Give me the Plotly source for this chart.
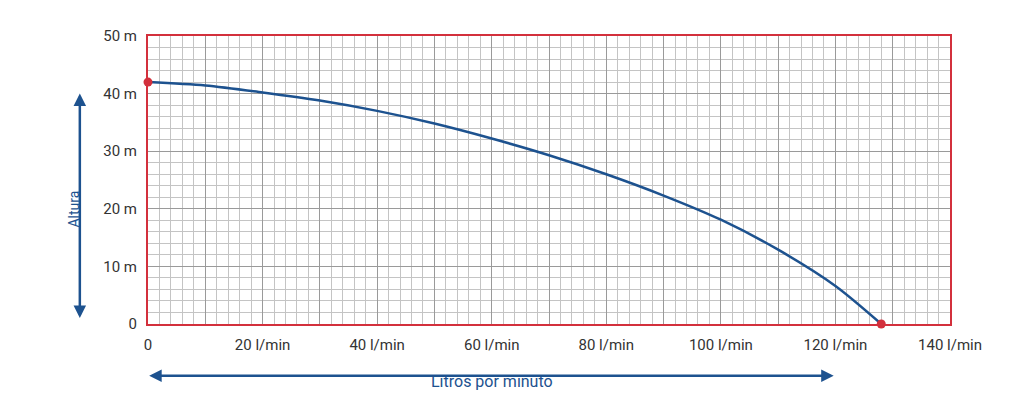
import plotly.graph_objects as go

flow = [0, 10, 20, 30, 40, 50, 60, 70, 80, 90, 100, 110, 120, 128]
height = [42, 41.4, 40.2, 38.8, 37.0, 34.8, 32.2, 29.3, 26.0, 22.3, 18.1, 12.9, 6.6, 0]
x_ticks = list(range(0, 141, 10))
x_labels = ["0" if v == 0 else (f"{v} l/min" if v % 20 == 0 else "") for v in x_ticks]
y_ticks = [0, 10, 20, 30, 40, 50]
y_labels = ["0", "10 m", "20 m", "30 m", "40 m", "50 m"]

blue = "#1d528f"
red = "#d3303c"

fig = go.Figure()
fig.add_trace(go.Scatter(x=flow, y=height, mode="lines", line=dict(color=blue, width=2.5, shape="spline", smoothing=0.8),
                         hoverinfo="skip"))
fig.add_trace(go.Scatter(x=[flow[0], flow[-1]], y=[height[0], height[-1]], mode="markers",
                         marker=dict(color=red, size=9), cliponaxis=False, hoverinfo="skip"))

axis_common = dict(showline=True, linecolor=red, linewidth=2, mirror=True, gridcolor="#9a9a9a", gridwidth=1.2,
                   zeroline=False, ticks="", automargin=False,
                   tickfont=dict(family="Roboto", size=15, color="#333"),
                   minor=dict(dtick=2, showgrid=True, gridcolor="#c4c4c4", gridwidth=1))
fig.update_xaxes(range=[0, 140], tickvals=x_ticks, ticktext=x_labels, ticklabelstandoff=6, **axis_common)
fig.update_yaxes(range=[0, 50], tickvals=y_ticks, ticktext=y_labels, ticklabelstandoff=6, **axis_common)

# plot area is 802 x 288 px
arrow = dict(showarrow=True, arrowhead=2, arrowside="end+start", arrowsize=1, arrowwidth=2.5, arrowcolor=blue,
             xref="paper", yref="paper", axref="pixel", ayref="pixel", text="")
fig.add_annotation(x=-0.085, y=0.80, ax=0, ay=226, **arrow)
fig.add_annotation(x=0.855, y=-0.18, ax=-686, ay=0, **arrow)
fig.add_annotation(x=-0.105, y=0.40, xref="paper", yref="paper", text="Altura", textangle=-90, showarrow=False,
                   font=dict(family="Roboto", size=14, color=blue))
fig.add_annotation(x=0.429, y=-0.24, xref="paper", yref="paper", text="Litros por minuto", showarrow=False,
                   font=dict(family="Roboto", size=16, color=blue))

fig.update_layout(width=1024, height=416, margin=dict(l=140, r=82, t=28, b=100), showlegend=False,
                  plot_bgcolor="white", paper_bgcolor="white")
fig.write_html("out.html")
